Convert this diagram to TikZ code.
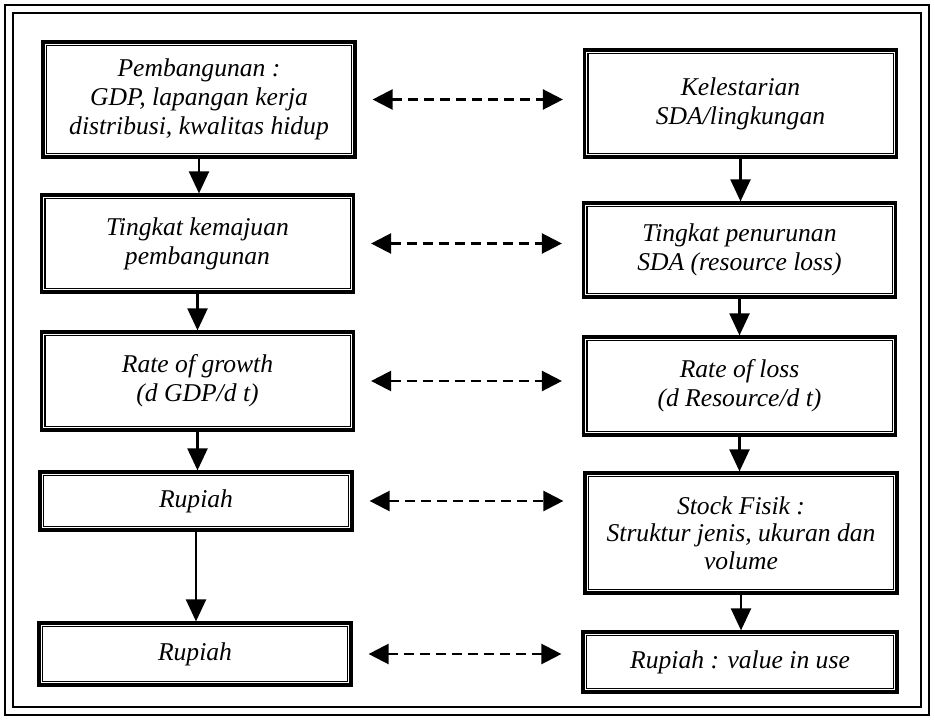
\documentclass[tikz,border=0pt]{standalone}
\usepackage{fontspec}
\setmainfont{Liberation Serif}
\usetikzlibrary{arrows.meta}
\tikzset{
    box/.style={draw,line width=1.6pt,minimum width=156pt,align=center,inner sep=0pt,
        font=\itshape\fontsize{12.8}{14.5}\selectfont},
    flow/.style={line width=1.1pt,-{Triangle[length=11pt,width=10pt]}},
    link/.style={line width=1.2pt,dash pattern=on 5pt off 3pt,
        {Triangle[length=10pt,width=10pt]}-{Triangle[length=10pt,width=10pt]},
        shorten <=8pt,shorten >=10pt}
}
\begin{document}
\begin{tikzpicture}[x=0.5pt,y=-0.5pt]
        \useasboundingbox (0,0) rectangle (935,721);
        %% frame
        \draw[line width=1.3pt] (5,5) rectangle (929,715);
        \draw[line width=1pt] (13,13) rectangle (921,707);
        %% left column
        \node[box,minimum height=57.5pt] (pemb) at (199,99.5) {Pembangunan :\\GDP, lapangan kerja\\distribusi, kwalitas hidup};
        \node[box,minimum height=48.5pt] (maju) at (197.5,243.5) {Tingkat kemajuan\\pembangunan};
        \node[box,minimum height=49pt] (growth) at (197.5,381) {Rate of growth\\(d GDP/d t)};
        \node[box,minimum height=29pt] (rpA) at (196,501) {Rupiah};
        \node[box,minimum height=31pt] (rpB) at (195,654) {Rupiah};
        %% right column
        \node[box,minimum height=53.5pt] (lestari) at (740.5,103.5) {Kelestarian\\SDA/lingkungan};
        \node[box,minimum height=47pt] (turun) at (739.5,250) {Tingkat penurunan\\SDA (resource loss)};
        \node[box,minimum height=49pt] (loss) at (739.5,386) {Rate of loss\\(d Resource/d t)};
        \node[box,minimum height=60pt,font=\itshape\fontsize{12.8}{13.8}\selectfont] (stock) at (741,533) {Stock Fisik :\\Struktur jenis, ukuran dan\\volume};
        \node[box,minimum height=30pt,minimum width=157pt] (value) at (740,662) {Rupiah : value in use};
        %% inner lines of the boxes
        \foreach \n in {pemb,maju,growth,rpA,rpB,lestari,turun,loss,stock,value}
            \draw[line width=0.6pt] ([shift={(2.5pt,2.5pt)}]\n.south west) rectangle ([shift={(-2.5pt,-2.5pt)}]\n.north east);
        %% arrows down
        \foreach \a/\b in {pemb/maju,maju/growth,growth/rpA,rpA/rpB,lestari/turun,turun/loss,loss/stock,stock/value}
            \draw[flow] (\a.south) -- (\a.south |- \b.north);
        %% links across
        \foreach \a/\b in {pemb/lestari,maju/turun,growth/loss,rpA/stock,rpB/value}
            \draw[link] (\a.east) -- (\a.east -| \b.west);
    \end{tikzpicture}
\end{document}
